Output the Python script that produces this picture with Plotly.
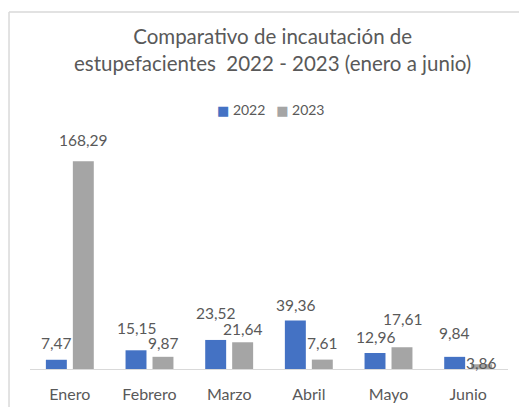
import plotly.graph_objects as go

months = ["Enero", "Febrero", "Marzo", "Abril", "Mayo", "Junio"]
values_2022 = [7.47, 15.15, 23.52, 39.36, 12.96, 9.84]
values_2023 = [168.29, 9.87, 21.64, 7.61, 17.61, 3.86]
series_names = ["2022", "2023"]
title_lines = ["Comparativo de incautación de", "estupefacientes  2022 - 2023 (enero a junio)"]

# label vertical offsets (px above bar top) as placed in the original chart
shift_2022 = [17, 22, 27, 15, 16, 24]
shift_2023 = [21, 14, 13, 17, 28, 1]

FONT = "Lato"
TXT = "#595959"
BLUE = "#4472C4"
GRAY = "#A5A5A5"
colors = [BLUE, GRAY]

fig = go.Figure()
fig.add_trace(go.Bar(name=series_names[0], x=months, y=values_2022, marker_color=BLUE,
                     marker_line_width=0))
fig.add_trace(go.Bar(name=series_names[1], x=months, y=values_2023, marker_color=GRAY,
                     marker_line_width=0))

def fmt(v):
    return f"{v:.2f}".replace(".", ",")

annotations = []
for vals, shifts, xs in ((values_2022, shift_2022, -13.5), (values_2023, shift_2023, 13.5)):
    for m, v, s in zip(months, vals, shifts):
        annotations.append(dict(x=m, y=v, xref="x", yref="y", text=fmt(v),
                                showarrow=False, xshift=xs, yshift=s,
                                yanchor="middle", xanchor="center",
                                font=dict(family=FONT, size=15.5, color=TXT)))

annotations.append(dict(x=0.508, y=1.187, xref="paper", yref="paper",
                        text="<br>".join(title_lines), showarrow=False,
                        xanchor="center", yanchor="middle",
                        font=dict(family=FONT, size=20.5, color=TXT)))

# legend (drawn as text so the key squares sit close to their labels)
sq = '<span style="color:{c};font-family:DejaVu Sans;font-size:13px">\u25A0</span>'
legend_text = ("\u00a0" * 3).join(sq.format(c=c) + "\u00a0" + n for c, n in zip(colors, series_names))
annotations.append(dict(x=0.505, y=0.963, xref="paper", yref="paper",
                        text=legend_text, showarrow=False,
                        xanchor="center", yanchor="middle",
                        font=dict(family=FONT, size=14, color=TXT)))

fig.update_layout(
    width=519, height=399,
    margin=dict(l=22, r=19, t=92, b=38, autoexpand=False),
    paper_bgcolor="white", plot_bgcolor="white",
    barmode="group", bargap=0.323, bargroupgap=0.223,
    annotations=annotations,
    showlegend=False,
    font=dict(family=FONT, color=TXT),
    shapes=[
        dict(type="line", xref="paper", yref="paper", x0=-0.0439, x1=-0.0439,
             y0=-0.5, y1=1.327, line=dict(color="#D9D9D9", width=1.5)),
        dict(type="line", xref="paper", yref="paper", x0=-0.0439, x1=1.2,
             y0=1.327, y1=1.327, line=dict(color="#D9D9D9", width=1.5)),
    ],
)
fig.update_xaxes(showline=True, linecolor="#D9D9D9", linewidth=1, ticks="",
                 showgrid=False, tickfont=dict(family=FONT, size=16, color=TXT),
                 ticklabelstandoff=11, automargin=False)
fig.update_yaxes(visible=False, range=[0, 217.8], showgrid=False, automargin=False)

fig.write_html("out.html")
